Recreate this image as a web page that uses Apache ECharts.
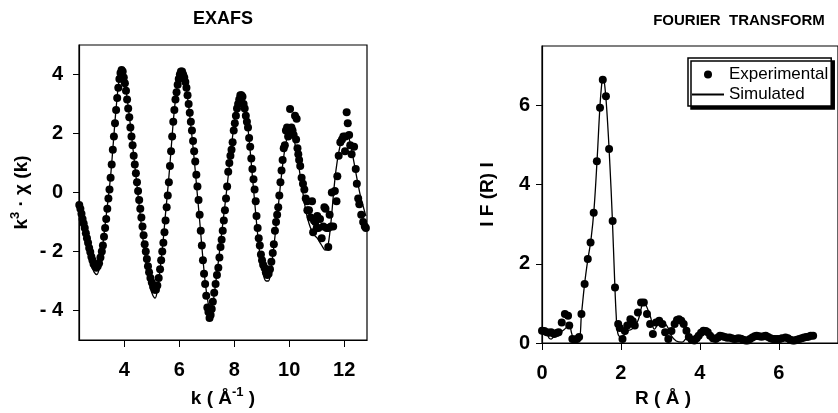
<!DOCTYPE html>
<html>
<head>
<meta charset="utf-8">
<script src="https://cdn.jsdelivr.net/npm/echarts@6/dist/echarts.min.js"></script>
<style>
  html, body { margin: 0; padding: 0; background: #fff; }
  #chart { width: 838px; height: 413px; }
</style>
</head>
<body>
<div id="chart"></div>
<script>
// EXAFS: experimental points [k, k3*chi]
var exafsExp = [
  [2.36,-0.42],[2.40,-0.55],[2.44,-0.72],[2.48,-0.9],[2.52,-1.05],[2.56,-1.2],[2.60,-1.38],[2.64,-1.55],
  [2.68,-1.7],[2.72,-1.88],[2.76,-2.02],[2.80,-2.18],[2.84,-2.3],[2.88,-2.42],[2.93,-2.5],[2.98,-2.55],
  [3.03,-2.5],[3.08,-2.4],[3.13,-2.2],[3.18,-2.0],[3.22,-1.8],[3.26,-1.5],[3.30,-1.2],[3.34,-0.9],
  [3.38,-0.55],[3.42,-0.2],[3.46,0.1],[3.50,0.5],[3.54,0.95],[3.58,1.45],[3.62,1.9],[3.66,2.35],
  [3.70,2.8],[3.74,3.2],[3.78,3.55],[3.82,3.85],[3.86,4.05],[3.90,4.15],[3.94,4.1],[3.98,3.9],
  [4.02,3.7],[4.06,3.45],[4.10,3.15],[4.14,2.85],[4.18,2.55],[4.22,2.2],[4.26,1.9],[4.30,1.6],
  [4.34,1.25],[4.38,0.95],[4.42,0.65],[4.46,0.35],[4.50,0.05],[4.54,-0.25],[4.58,-0.55],[4.62,-0.85],
  [4.66,-1.15],[4.70,-1.45],[4.74,-1.75],[4.78,-2.0],[4.82,-2.25],[4.86,-2.5],[4.90,-2.7],[4.95,-2.9],
  [5.00,-3.05],[5.05,-3.2],[5.10,-3.3],[5.15,-3.3],[5.20,-3.15],[5.25,-2.9],[5.30,-2.6],[5.34,-2.3],
  [5.38,-2.0],[5.42,-1.7],[5.46,-1.35],[5.50,-0.95],[5.54,-0.5],[5.58,-0.1],[5.62,0.35],[5.66,0.9],
  [5.70,1.4],[5.74,1.9],[5.78,2.4],[5.82,2.8],[5.86,3.15],[5.90,3.4],[5.94,3.65],[5.98,3.85],
  [6.02,4.0],[6.06,4.1],[6.10,4.1],[6.14,4.0],[6.18,3.9],[6.22,3.75],[6.26,3.55],[6.30,3.3],
  [6.34,3.0],[6.38,2.7],[6.42,2.4],[6.46,2.1],[6.50,1.75],[6.54,1.4],[6.58,1.05],[6.62,0.6],
  [6.66,0.2],[6.70,-0.25],[6.74,-0.75],[6.78,-1.3],[6.82,-1.8],[6.86,-2.3],[6.90,-2.75],[6.94,-3.1],
  [6.98,-3.5],[7.02,-3.9],[7.06,-4.05],[7.10,-4.25],[7.14,-4.15],[7.18,-3.95],[7.22,-3.7],[7.27,-3.4],
  [7.32,-3.1],[7.37,-2.8],[7.42,-2.55],[7.46,-2.2],[7.50,-1.85],[7.54,-1.6],[7.58,-1.3],[7.62,-0.95],
  [7.66,-0.6],[7.70,-0.2],[7.74,0.2],[7.78,0.7],[7.82,1.0],[7.86,1.25],[7.90,1.45],[7.94,1.7],
  [7.98,2.1],[8.02,2.35],[8.06,2.6],[8.10,2.85],[8.14,3.0],[8.18,3.15],[8.22,3.3],[8.26,3.3],
  [8.30,3.25],[8.34,3.0],[8.38,2.85],[8.42,2.6],[8.46,2.4],[8.50,2.2],[8.54,1.85],[8.58,1.55],
  [8.62,1.15],[8.66,0.8],[8.70,0.45],[8.74,0.1],[8.78,-0.3],[8.81,-0.8],[8.85,-1.2],[8.89,-1.55],
  [8.93,-1.8],[8.97,-2.1],[9.01,-2.3],[9.05,-2.45],[9.10,-2.55],[9.15,-2.7],[9.20,-2.8],[9.25,-2.75],
  [9.30,-2.6],[9.35,-2.35],[9.40,-2.05],[9.44,-1.75],[9.48,-1.3],[9.52,-1.0],[9.56,-0.75],[9.60,-0.5],
  [9.64,-0.1],[9.68,0.35],[9.72,0.75],[9.76,1.1],[9.80,1.5],[9.84,1.6],[9.88,2.1],[9.92,2.2],
  [9.96,1.9],[10.0,2.0],[10.03,2.83],[10.08,2.2],[10.12,2.1],[10.16,1.95],[10.21,2.6],[10.25,1.8],
  [10.27,2.5],[10.30,1.5],[10.33,1.3],[10.36,1.1],[10.40,0.9],[10.45,0.5],[10.50,0.3],[10.55,0.1],
  [10.60,-0.2],[10.65,-0.3],[10.66,-0.6],[10.72,-0.6],[10.78,-0.85],[10.83,-0.3],[10.87,-1.35],[10.90,-0.95],
  [10.95,-1.0],[11.0,-1.2],[11.02,-0.8],[11.06,-1.2],[11.12,-0.9],[11.18,-1.55],[11.24,-1.15],[11.28,-0.5],
  [11.32,-0.55],[11.36,-1.2],[11.42,-1.2],[11.42,-1.85],[11.47,-0.75],[11.52,-1.15],[11.55,0.0],[11.60,-1.15],
  [11.66,0.05],[11.72,-0.3],[11.75,0.55],[11.80,1.25],[11.86,1.7],[11.92,1.8],[11.97,1.9],[12.03,1.4],
  [12.05,1.9],[12.09,2.72],[12.13,2.35],[12.18,1.95],[12.22,1.6],[12.27,1.3],[12.36,1.55],[12.42,0.8],
  [12.46,0.3],[12.51,-0.2],[12.55,-0.4],[12.62,-0.75],[12.69,-1.0],[12.75,-1.15],[12.79,-1.2]
];

// EXAFS: simulated curve [k, k3*chi]
var exafsSim = [
  [2.35,-0.4],[2.5,-1.15],[2.65,-1.85],[2.8,-2.45],[2.9,-2.7],[3.0,-2.78],[3.1,-2.5],[3.2,-1.9],
  [3.3,-1.1],[3.4,-0.3],[3.5,0.55],[3.6,1.7],[3.7,2.85],[3.8,3.75],[3.9,4.2],[4.0,3.95],
  [4.1,3.2],[4.2,2.45],[4.3,1.6],[4.4,0.75],[4.5,-0.1],[4.6,-0.95],[4.7,-1.75],[4.8,-2.45],
  [4.9,-3.0],[5.0,-3.4],[5.12,-3.58],[5.2,-3.3],[5.3,-2.6],[5.4,-1.75],[5.5,-0.7],[5.6,0.3],
  [5.7,1.45],[5.8,2.6],[5.9,3.45],[6.0,3.95],[6.08,4.12],[6.15,3.98],[6.25,3.55],[6.35,2.85],
  [6.45,2.0],[6.55,1.05],[6.65,0.0],[6.75,-1.05],[6.85,-2.15],[6.95,-3.1],[7.05,-3.75],[7.13,-3.95],
  [7.22,-3.75],[7.32,-3.1],[7.42,-2.35],[7.52,-1.55],[7.62,-0.75],[7.72,0.05],[7.82,0.9],[7.92,1.75],
  [8.02,2.5],[8.12,3.05],[8.22,3.35],[8.28,3.4],[8.36,3.15],[8.46,2.5],[8.56,1.6],[8.66,0.55],
  [8.76,-0.5],[8.86,-1.5],[8.96,-2.3],[9.06,-2.8],[9.16,-3.0],[9.24,-3.0],[9.32,-2.7],[9.42,-2.0],
  [9.52,-1.15],[9.62,-0.3],[9.72,0.6],[9.82,1.35],[9.92,1.85],[10.02,2.05],[10.12,1.95],[10.22,1.6],
  [10.32,1.05],[10.42,0.45],[10.52,-0.15],[10.62,-0.7],[10.72,-1.05],[10.82,-1.3],[10.92,-1.45],[11.02,-1.55],
  [11.12,-1.7],[11.22,-1.85],[11.3,-1.95],[11.38,-1.9],[11.46,-1.5],[11.54,-0.8],[11.62,0.05],[11.7,0.75],
  [11.8,1.35],[11.9,1.75],[12.0,1.9],[12.1,1.95],[12.2,1.75],[12.3,1.3],[12.4,0.8],[12.5,0.3],
  [12.6,-0.15],[12.7,-0.5],[12.79,-0.8]
];

// Fourier transform: experimental points [R, |F(R)|]
var ftExp = [
  [0.0,0.31],[0.06,0.3],[0.12,0.27],[0.18,0.26],[0.23,0.27],[0.31,0.23],[0.37,0.25],[0.42,0.27],
  [0.5,0.52],[0.58,0.73],[0.66,0.69],[0.69,0.44],[0.77,0.1],[0.83,0.08],[0.89,0.1],[0.94,0.15],
  [1.0,0.73],[1.08,1.49],[1.16,2.12],[1.23,2.54],[1.31,3.29],[1.39,4.59],[1.47,5.94],[1.54,6.65],
  [1.62,6.23],[1.7,4.9],[1.79,3.08],[1.85,1.4],[1.93,0.48],[1.97,0.38],[2.04,0.1],[2.1,0.3],
  [2.16,0.44],[2.24,0.6],[2.3,0.55],[2.35,0.44],[2.43,0.77],[2.51,1.02],[2.58,1.02],[2.66,0.73],
  [2.74,0.48],[2.81,0.23],[2.89,0.52],[2.97,0.56],[3.05,0.48],[3.12,0.27],[3.2,0.1],[3.28,0.3],
  [3.36,0.48],[3.42,0.58],[3.47,0.6],[3.53,0.56],[3.59,0.48],[3.66,0.31],[3.72,0.15],[3.79,0.08],
  [3.86,0.06],[3.92,0.12],[3.97,0.18],[4.03,0.26],[4.09,0.31],[4.15,0.3],[4.2,0.27],[4.26,0.18],
  [4.33,0.12],[4.4,0.1],[4.46,0.14],[4.51,0.18],[4.57,0.17],[4.63,0.15],[4.69,0.13],[4.75,0.14],
  [4.81,0.12],[4.87,0.1],[4.93,0.11],[4.98,0.12],[5.04,0.11],[5.1,0.08],[5.16,0.06],[5.21,0.06],
  [5.27,0.1],[5.33,0.14],[5.39,0.17],[5.44,0.18],[5.5,0.17],[5.56,0.16],[5.62,0.17],[5.67,0.18],
  [5.73,0.15],[5.79,0.12],[5.85,0.1],[5.9,0.1],[5.96,0.1],[6.02,0.1],[6.08,0.12],[6.17,0.14],
  [6.23,0.12],[6.29,0.08],[6.35,0.06],[6.4,0.06],[6.46,0.08],[6.52,0.1],[6.58,0.12],[6.64,0.14],
  [6.7,0.15],[6.75,0.16],[6.81,0.18],[6.87,0.18]
];

// Fourier transform: simulated curve [R, |F(R)|]
var ftSim = [
  [0,0.38],[0.06,0.3],[0.12,0.27],[0.18,0.12],[0.23,0.1],[0.3,0.16],[0.42,0.23],[0.55,0.33],
  [0.69,0.44],[0.75,0.25],[0.81,0.1],[0.93,0.1],[1.0,0.73],[1.08,1.5],[1.16,2.1],[1.24,2.6],
  [1.32,3.4],[1.4,4.7],[1.47,6.0],[1.52,6.6],[1.55,6.72],[1.6,6.4],[1.66,5.6],[1.72,4.5],
  [1.78,3.2],[1.84,1.6],[1.88,0.7],[1.92,0.25],[2.0,0.15],[2.1,0.22],[2.2,0.32],[2.28,0.35],
  [2.43,0.56],[2.58,1.02],[2.74,0.69],[2.85,0.35],[3.0,0.56],[3.16,0.44],[3.28,0.18],[3.4,0.05],
  [3.55,0.02],[3.7,0.15],[3.9,0.1],[4.1,0.28],[4.3,0.12],[4.6,0.15],[5.0,0.1],[5.4,0.15],
  [6.0,0.1],[6.5,0.08],[6.9,0.16]
];

var kTicks = [4, 6, 8, 10, 12];
var chiTicks = [-4, -2, 0, 2, 4];
var rTicks = [0, 2, 4, 6];
var ftTicks = [0, 2, 4, 6];

var FONT = "'Liberation Sans', Arial, sans-serif";
var chart = echarts.init(document.getElementById('chart'), null, { renderer: 'canvas' });

var labelStyle = { color: '#000', fontFamily: FONT, fontWeight: 'bold', fontSize: 20 };
var nameStyle = { color: '#000', fontFamily: FONT, fontWeight: 'bold', fontSize: 19 };
var supStyle = { color: '#000', fontFamily: FONT, fontWeight: 'bold', fontSize: 13, padding: [0, 0, 12, 0] };
var axisLine = { show: true, onZero: false, lineStyle: { color: '#000', width: 1.2 } };

function signed(v) {
    return v < 0 ? '- ' + Math.abs(v) : String(v);
}

var option = {
    animation: false,
    backgroundColor: '#fff',
    title: [
        { text: 'EXAFS', left: 218, top: 5, textAlign: 'center',
          textStyle: { fontFamily: FONT, fontWeight: 'bold', fontSize: 18, color: '#000' } },
        { text: 'FOURIER  TRANSFORM', left: 734, top: 8, textAlign: 'center',
          textStyle: { fontFamily: FONT, fontWeight: 'bold', fontSize: 15, color: '#000' } }
    ],
    legend: {
        orient: 'vertical',
        left: 688, top: 58,
        itemWidth: 32, itemHeight: 8, itemGap: 3,
        padding: [8, 3, 3, 3],
        backgroundColor: '#fff',
        borderColor: '#000', borderWidth: 1.5,
        shadowColor: '#000', shadowOffsetX: 3, shadowOffsetY: 3, shadowBlur: 0.1,
        textStyle: { fontFamily: FONT, fontSize: 17, color: '#000' },
        data: [
            { name: 'Experimental', icon: 'circle' },
            { name: 'Simulated', itemStyle: { opacity: 0 } }
        ]
    },
    grid: [
        { left: 79, top: 45, width: 288, height: 299, show: true, borderColor: '#000', borderWidth: 1.2, backgroundColor: 'transparent' },
        { left: 542, top: 46, width: 324, height: 298, show: true, borderColor: '#000', borderWidth: 1.2, backgroundColor: 'transparent' }
    ],
    xAxis: [
        {
            gridIndex: 0, type: 'value', min: 2.35, max: 12.83,
            axisLine: axisLine,
            axisTick: { show: true, length: 7, customValues: kTicks, lineStyle: { color: '#000' } },
            axisLabel: { customValues: kTicks, margin: 20, textStyle: labelStyle },
            splitLine: { show: false },
            name: '{a|k ( Å}{s|-1}{a| )}', nameLocation: 'middle', nameGap: 46,
            nameTextStyle: { rich: { a: nameStyle, s: supStyle } }
        },
        {
            gridIndex: 1, type: 'value', min: 0, max: 7.5,
            axisLine: axisLine,
            axisTick: { show: true, length: 7, customValues: rTicks, lineStyle: { color: '#000' } },
            axisLabel: { customValues: rTicks, margin: 20, textStyle: labelStyle },
            splitLine: { show: false },
            name: 'R ( Å )', nameLocation: 'middle', nameGap: 46,
            nameTextStyle: { color: '#000', fontFamily: FONT, fontWeight: 'bold', fontSize: 19, padding: [0, 54, 0, 0] }
        }
    ],
    yAxis: [
        {
            gridIndex: 0, type: 'value', min: -5, max: 5,
            axisLine: axisLine,
            axisTick: { show: true, length: 6, customValues: chiTicks, lineStyle: { color: '#000' } },
            axisLabel: { customValues: chiTicks, margin: 16, formatter: signed, textStyle: labelStyle },
            splitLine: { show: false },
            name: '{a|k}{s|3}{a| · χ (k)}', nameLocation: 'middle', nameGap: 45, nameRotate: 90,
            nameTextStyle: { rich: { a: nameStyle, s: supStyle } }
        },
        {
            gridIndex: 1, type: 'value', min: 0, max: 7.5,
            axisLine: axisLine,
            axisTick: { show: true, length: 6, customValues: ftTicks, lineStyle: { color: '#000' } },
            axisLabel: { customValues: ftTicks, margin: 12, textStyle: labelStyle },
            splitLine: { show: false },
            name: 'I F (R) I', nameLocation: 'middle', nameGap: 45, nameRotate: 90,
            nameTextStyle: nameStyle
        }
    ],
    series: [
        {
            name: 'Simulated', type: 'line', xAxisIndex: 0, yAxisIndex: 0,
            data: exafsSim, smooth: 0.4, symbol: 'none',
            itemStyle: { color: '#000' },
            lineStyle: { color: '#000', width: 1.3 }, z: 2
        },
        {
            name: 'Experimental', type: 'scatter', xAxisIndex: 0, yAxisIndex: 0,
            data: exafsExp, symbol: 'circle', symbolSize: 8,
            itemStyle: { color: '#000', opacity: 1 }, z: 3
        },
        {
            name: 'Simulated', type: 'line', xAxisIndex: 1, yAxisIndex: 1,
            data: ftSim, smooth: 0.4, symbol: 'none',
            itemStyle: { color: '#000' },
            lineStyle: { color: '#000', width: 1.3 }, z: 2
        },
        {
            name: 'Experimental', type: 'scatter', xAxisIndex: 1, yAxisIndex: 1,
            data: ftExp, symbol: 'circle', symbolSize: 8,
            itemStyle: { color: '#000', opacity: 1 }, z: 3
        }
    ]
};

chart.setOption(option);
</script>
</body>
</html>
